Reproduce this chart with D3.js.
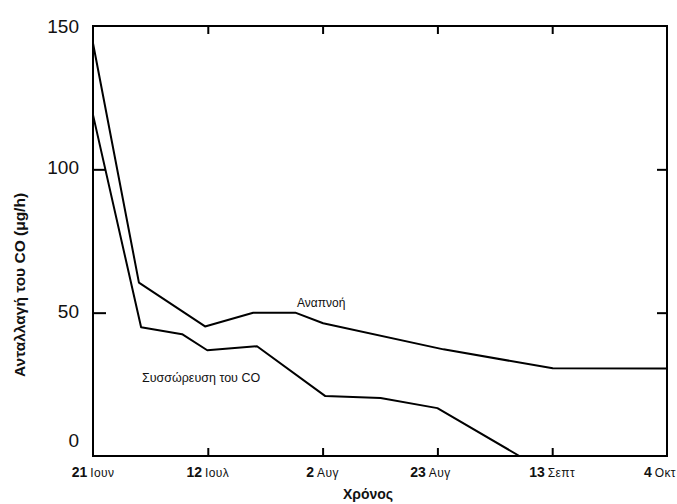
<!DOCTYPE html>
<html>
<head>
<meta charset="utf-8">
<script src="https://cdn.jsdelivr.net/npm/d3@7"></script>
<style>
  html, body { margin: 0; padding: 0; background: #fff; }
  svg { display: block; font-family: "Liberation Sans", Arial, Helvetica, sans-serif; }
</style>
</head>
<body>
<svg id="chart" width="677" height="504"></svg>
<script>
// ---- Data (days after 21 June) ----
const respDays   = [0, 8.4, 20.5, 29.3, 37, 42.1, 64.1, 84.1, 105];
const respValues = [144, 60.5, 45.2, 50, 50, 46.3, 37.2, 30.6, 30.5];
const accDays    = [0, 8.8, 16.3, 20.9, 30, 42.5, 52.6, 63, 78];
const accValues  = [119, 44.9, 42.5, 36.9, 38.3, 20.9, 20.2, 16.7, 0];

const xTickDays   = [0, 21, 42, 63, 84, 105];
const xTickNums   = ["21", "12", "2", "23", "13", "4"];
const xTickMonths = ["Ιουν", "Ιουλ", "Αυγ", "Αυγ", "Σεπτ", "Οκτ"];
const yTicks      = [0, 50, 100, 150];

const yLabel = "Ανταλλαγή του CO (μg/h)";
const xLabel = "Χρόνος";
const respLabel = "Αναπνοή";
const accLabel = "Συσσώρευση του CO";

// ---- Layout ----
const mL = 93, mR = 667, mT = 26, mB = 456;
const svg = d3.select("#chart");

const x = d3.scaleLinear().domain([0, 105]).range([mL, mR]);
const y = d3.scaleLinear().domain([0, 150]).range([mB, mT]);

// frame
svg.append("rect")
  .attr("x", mL).attr("y", mT)
  .attr("width", mR - mL).attr("height", mB - mT)
  .attr("fill", "none").attr("stroke", "#000").attr("stroke-width", 2);

// bottom ticks (inward)
const inner = xTickDays.filter(d => d > 0 && d < 105);
svg.append("g").attr("transform", `translate(0,${mB})`)
  .call(d3.axisTop(x).tickValues(inner).tickSize(8).tickFormat(""))
  .call(g => g.select(".domain").remove())
  .call(g => g.selectAll("line").attr("stroke-width", 2));
// top ticks (inward)
svg.append("g").attr("transform", `translate(0,${mT})`)
  .call(d3.axisBottom(x).tickValues(inner).tickSize(8).tickFormat(""))
  .call(g => g.select(".domain").remove())
  .call(g => g.selectAll("line").attr("stroke-width", 2));
// left ticks (inward)
const yInner = yTicks.filter(v => v > 0 && v < 150);
svg.append("g").attr("transform", `translate(${mL},0)`)
  .call(d3.axisRight(y).tickValues(yInner).tickSize(13).tickFormat(""))
  .call(g => g.select(".domain").remove())
  .call(g => g.selectAll("line").attr("stroke-width", 2));
// right ticks (inward)
svg.append("g").attr("transform", `translate(${mR},0)`)
  .call(d3.axisLeft(y).tickValues(yInner).tickSize(10).tickFormat(""))
  .call(g => g.select(".domain").remove())
  .call(g => g.selectAll("line").attr("stroke-width", 2));

// y tick labels
svg.append("g").selectAll("text").data(yTicks).join("text")
  .attr("x", 79)
  .attr("y", v => y(v) + 7 - (v === 0 ? 16 : (v === 150 ? 0 : 2)))
  .attr("text-anchor", "end")
  .attr("font-size", 19)
  .attr("fill", "#111")
  .text(v => v);

// x tick labels
const last = xTickDays.length - 1;
const xl = svg.append("g").selectAll("text").data(xTickDays).join("text")
  .attr("x", (d, i) => i === last ? 676 : x(d) - (i === 3 ? 7 : 0))
  .attr("y", 477)
  .attr("text-anchor", (d, i) => i === last ? "end" : "middle")
  .attr("fill", "#111");
xl.append("tspan").attr("font-weight", "bold").attr("font-size", 14)
  .text((d, i) => xTickNums[i]);
xl.append("tspan").attr("font-size", 12).attr("dx", 3)
  .attr("letter-spacing", 0.4)
  .text((d, i) => xTickMonths[i]);

// axis titles
svg.append("text")
  .attr("transform", "translate(25,285) rotate(-90)")
  .attr("text-anchor", "middle")
  .attr("font-weight", "bold").attr("font-size", 15.5)
  .attr("fill", "#111")
  .text(yLabel);
svg.append("text")
  .attr("x", 368).attr("y", 499)
  .attr("text-anchor", "middle")
  .attr("font-weight", "bold").attr("font-size", 14)
  .attr("fill", "#111")
  .text(xLabel);

// lines
const line = d3.line().x(d => x(d[0])).y(d => y(d[1]));
svg.append("path")
  .datum(respDays.map((d, i) => [d, respValues[i]]))
  .attr("d", line)
  .attr("fill", "none").attr("stroke", "#000").attr("stroke-width", 2)
  .attr("stroke-linejoin", "round");
svg.append("path")
  .datum(accDays.map((d, i) => [d, accValues[i]]))
  .attr("d", line)
  .attr("fill", "none").attr("stroke", "#000").attr("stroke-width", 2)
  .attr("stroke-linejoin", "round");

// series labels
svg.append("text")
  .attr("x", 297).attr("y", 307)
  .attr("font-size", 12).attr("fill", "#111")
  .text(respLabel);
svg.append("text")
  .attr("x", 142).attr("y", 382)
  .attr("font-size", 12.5).attr("fill", "#111")
  .text(accLabel);
</script>
</body>
</html>
